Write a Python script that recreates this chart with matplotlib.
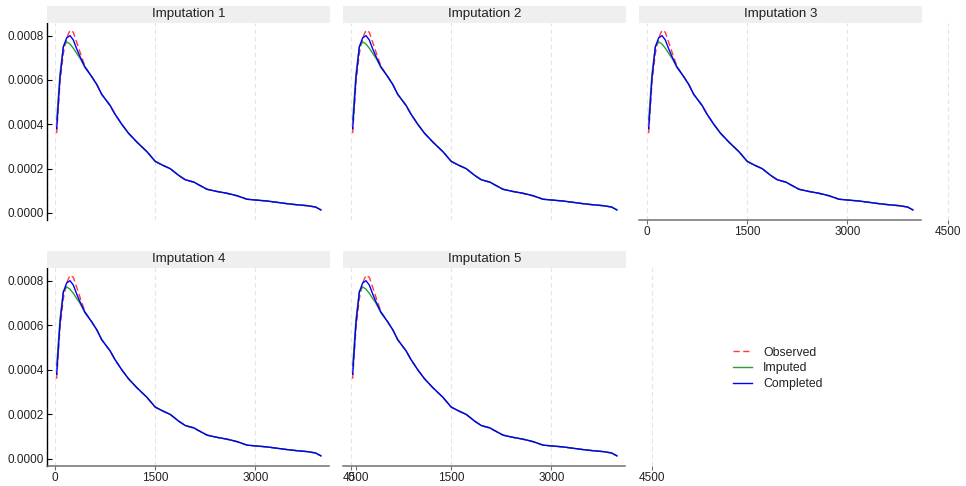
import matplotlib
matplotlib.use("Agg")
import matplotlib.pyplot as plt
from matplotlib.patches import Rectangle
from matplotlib.lines import Line2D
import matplotlib.transforms as mtransforms

plt.rcParams['font.family'] = ['Liberation Sans', 'DejaVu Sans']

# ---------------- data ----------------
panel_titles = ["Imputation 1", "Imputation 2", "Imputation 3",
                "Imputation 4", "Imputation 5"]
x_ticks = [0, 1500, 3000, 4500]
x_ticklabels = ["0", "1500", "3000", "4500"]
y_ticks = [0.0, 0.0002, 0.0004, 0.0006, 0.0008]
y_ticklabels = ["0.0000", "0.0002", "0.0004", "0.0006", "0.0008"]
legend_labels = ["Observed", "Imputed", "Completed"]

x_grid = [25, 75, 125, 175, 225, 275, 325, 375, 450, 550, 625, 700, 825,
          900, 1000, 1100, 1225, 1375, 1500, 1600, 1725, 1850, 1950, 2075,
          2275, 2425, 2575, 2725, 2875, 3025, 3175, 3325, 3475, 3625, 3775,
          3900, 3980]

observed = [0.00036, 0.00059, 0.00072, 0.00079, 0.000825, 0.000815, 0.00077,
            0.000725, 0.00066, 0.000615, 0.00058, 0.000535, 0.000485,
            0.000445, 0.0004, 0.00036, 0.00032, 0.000277, 0.000233,
            0.000216, 0.0002, 0.00017, 0.00015, 0.000138, 0.000107,
            0.000097, 0.000088, 0.000077, 0.000062, 0.000058, 0.000054,
            0.000048, 0.000042, 0.000037, 0.000033, 0.000027, 0.000014]

imputed = [0.00042, 0.00063, 0.00075, 0.000772, 0.000762, 0.000743, 0.00072,
           0.000698, 0.000655, 0.000615, 0.00058, 0.000535, 0.000485,
           0.000445, 0.0004, 0.00036, 0.00032, 0.000277, 0.000233,
           0.000218, 0.0002, 0.00017, 0.00015, 0.00014, 0.000107,
           0.000097, 0.000089, 0.000078, 0.000062, 0.000058, 0.000054,
           0.000048, 0.000042, 0.000037, 0.000033, 0.000027, 0.000014]

completed = [0.00038, 0.00061, 0.00075, 0.00079, 0.0008, 0.00078, 0.00074,
             0.000705, 0.000658, 0.000615, 0.00058, 0.000535, 0.000485,
             0.000445, 0.0004, 0.00036, 0.00032, 0.000277, 0.000233,
             0.000217, 0.0002, 0.00017, 0.00015, 0.00014, 0.000107,
             0.000097, 0.000089, 0.000078, 0.000062, 0.000058, 0.000054,
             0.000048, 0.000042, 0.000037, 0.000033, 0.000027, 0.000014]

# ---------------- layout ----------------
W, H = 966, 486
fig = plt.figure(figsize=(W / 100, H / 100), dpi=100)
fig.patch.set_facecolor('white')

S = 100.2 / 1500.0          # pixels per data unit on x
col_x0 = [55, 351, 647]     # pixel of x = 0 in each column
rows = [(23, 220), (268, 466)]
XLO = -8 / S
XHI = 4650
STRIP_END = 4116
YLO, YHI = -3.16e-5, 0.000857

RED = '#ff3b3b'
GREEN = '#2f9e2f'
BLUE = '#0000ff'
TXT = '#222222'

positions = [(0, 0), (0, 1), (0, 2), (1, 0), (1, 1)]
show_x = [False, False, True, True, True]
show_y = [True, False, False, True, False]

for i, (r, c) in enumerate(positions):
    top, bot = rows[r]
    x0 = col_x0[c]
    left = x0 - 8
    right = x0 + XHI * S
    h = bot - top
    ax = fig.add_axes([left / W, 1 - bot / H, (right - left) / W, h / H])
    ax.set_facecolor('white')
    ax.set_xlim(XLO, XHI)
    ax.set_ylim(YLO, YHI)

    for sp in ['top', 'right']:
        ax.spines[sp].set_visible(False)

    # vertical dashed grid
    for xt in x_ticks:
        ax.axvline(xt, color='#e4e4e4', lw=0.8, ls=(0, (4, 3)), zorder=0.5)

    # curves
    ax.plot(x_grid, observed, color=RED, lw=1.0, ls=(0, (4.5, 2.5)), zorder=2)
    ax.plot(x_grid, imputed, color=GREEN, lw=1.0, zorder=3)
    ax.plot(x_grid, completed, color=BLUE, lw=1.0, zorder=4)

    # x axis
    ax.set_xticks(x_ticks)
    if show_x[i]:
        ax.spines['bottom'].set_color('#707070')
        ax.spines['bottom'].set_linewidth(1.1)
        ax.spines['bottom'].set_bounds(XLO, STRIP_END - 20)
        ax.set_xticklabels(x_ticklabels)
        ax.tick_params(axis='x', direction='out', length=3, width=0.8,
                       color='#707070', pad=1.5, labelsize=8.5,
                       labelcolor=TXT)
    else:
        ax.spines['bottom'].set_visible(False)
        ax.tick_params(axis='x', bottom=False, labelbottom=False)

    # y axis
    ax.set_yticks(y_ticks)
    if show_y[i]:
        ax.spines['left'].set_color('black')
        ax.spines['left'].set_linewidth(1.0)
        ax.set_yticklabels(y_ticklabels)
        ax.tick_params(axis='y', direction='in', length=3.5, width=0.8,
                       color='black', pad=2.5, labelsize=8.5,
                       labelcolor=TXT)
    else:
        ax.spines['left'].set_visible(False)
        ax.tick_params(axis='y', left=False, labelleft=False)

    # strip header
    trans = mtransforms.blended_transform_factory(ax.transData, ax.transAxes)
    strip_h = 16.8 / h
    ax.add_patch(Rectangle((XLO, 1.0 + 0.4 / h), STRIP_END - XLO, strip_h,
                           transform=trans, facecolor='#efefef',
                           edgecolor='none', clip_on=False, zorder=5))
    ax.text((XLO + STRIP_END) / 2, 1.0 + (0.4 + 8.4) / h, panel_titles[i],
            transform=trans, ha='center', va='center', fontsize=9.6,
            color=TXT, zorder=6, clip_on=False)

# legend
handles = [Line2D([], [], color=RED, lw=1.0, ls=(0, (4.5, 2.5))),
           Line2D([], [], color=GREEN, lw=1.0),
           Line2D([], [], color=BLUE, lw=1.0)]
leg = fig.legend(handles, legend_labels, loc='center left',
                 bbox_to_anchor=(733 / W, 1 - 368.3 / H), frameon=False,
                 fontsize=8.8, handlelength=1.55, handletextpad=0.9,
                 labelspacing=0.3, borderpad=0, borderaxespad=0)
for t in leg.get_texts():
    t.set_color(TXT)

fig.savefig('out.png', dpi=100, facecolor='white')
